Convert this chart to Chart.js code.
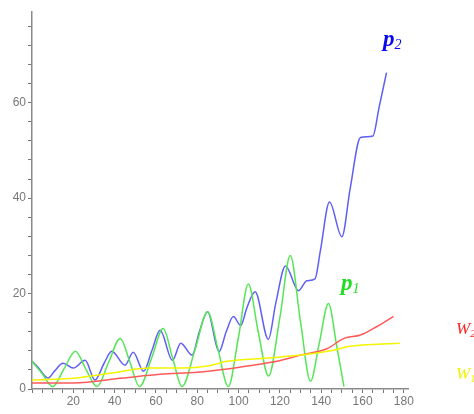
<!DOCTYPE html>
<html>
<head>
<meta charset="utf-8">
<title>p1, p2, W1, W2</title>
<script src="https://cdn.jsdelivr.net/npm/chart.js@4/dist/chart.umd.min.js"></script>
<style>
  html, body { margin: 0; padding: 0; background: #fff; }
  #wrap { position: relative; width: 474px; height: 414px; }
</style>
</head>
<body>
<div id="wrap"><canvas id="plot" width="474" height="414"></canvas></div>
<script>
// p2 (blue)
const p2X = [0, 3, 7.8, 11, 15, 20, 25.7, 30.5, 35, 38.6, 45, 49, 54, 58, 62, 68, 72, 77.5, 81, 85, 90.5, 94, 97.5, 101, 104, 108, 114.4, 118, 122.7, 129, 133, 137, 139.6, 144, 150, 154, 159, 165, 168, 171.6];
const p2Y = [5.8, 4.5, 2.3, 3.8, 5.4, 4.4, 6.0, 1.9, 5.5, 7.9, 5.0, 7.7, 3.7, 8.0, 12.3, 6.0, 9.6, 7.1, 12.0, 16.2, 7.8, 12.0, 15.2, 13.3, 17.0, 20.4, 10.4, 18.0, 25.8, 20.6, 22.7, 23.1, 29.0, 39.2, 31.9, 42.0, 52.7, 53.0, 59.0, 66.3];

// p1 (green)
const p1X = [0, 5, 10, 15.5, 21, 26, 31.5, 37, 42.7, 47.5, 52, 58, 63.5, 68, 72.6, 79, 85, 90, 95, 100, 104.7, 109.5, 114.5, 120, 125, 130, 134.8, 139, 143.5, 147.5, 151];
const p1Y = [5.8, 3.2, 0.5, 4.2, 7.9, 4.2, 0.5, 5.5, 10.6, 5.5, 0.5, 6.6, 12.7, 6.6, 0.5, 8.4, 16.2, 8.4, 0.5, 11.0, 22.0, 12.0, 2.7, 15.0, 28.0, 14.0, 1.6, 9.5, 17.9, 9.0, 0.5];

// W2 (red)
const w2X = [0, 20, 44, 62, 80, 94.5, 107, 118.5, 130, 143, 151, 159, 167, 175];
const w2Y = [1.25, 1.25, 2.3, 3.1, 3.5, 4.2, 5.0, 5.8, 7.1, 8.5, 10.6, 11.3, 13.1, 15.2];

// W1 (yellow)
const w1X = [0, 21.5, 37.8, 57, 73, 85, 94.5, 114, 130, 146, 153, 178];
const w1Y = [1.9, 2.3, 3.3, 4.4, 4.4, 4.8, 5.8, 6.5, 7.1, 8.1, 8.9, 9.6];

// x ticks every 5, labelled every 20; y ticks every 4, labelled every 20
const xStep = 5, xLabelEvery = 20;
const yStep = 4, yLabelEvery = 20;

const pts = (xs, ys) => xs.map((x, i) => ({ x: x, y: ys[i] }));

// curve names placed beside their lines
const curveLabels = [
  { main: 'p', sub: '2', color: '#0a0aee', x: 383, y: 46, size: 23, bold: true },
  { main: 'p', sub: '1', color: '#22dd22', x: 341, y: 290, size: 23, bold: true },
  { main: 'W', sub: '2', color: '#ff2222', x: 456, y: 334, size: 17, bold: false },
  { main: 'W', sub: '1', color: '#f2f200', x: 456, y: 379, size: 17, bold: false },
];

const labelPlugin = {
  id: 'curveLabels',
  afterDraw(chart) {
    const ctx = chart.ctx;
    ctx.save();
    ctx.textBaseline = 'alphabetic';
    curveLabels.forEach(l => {
      const w = l.bold ? 'bold ' : '';
      ctx.fillStyle = l.color;
      ctx.font = `italic ${w}${l.size}px "Liberation Serif", "DejaVu Serif", serif`;
      ctx.fillText(l.main, l.x, l.y);
      const mw = ctx.measureText(l.main).width;
      ctx.font = `italic ${Math.round(l.size * 0.62)}px "Liberation Serif", "DejaVu Serif", serif`;
      ctx.fillText(l.sub, l.x + mw, l.y + 3);
    });
    ctx.restore();
  }
};

const line = (data, color) => ({
  data: data,
  borderColor: color,
  borderWidth: 1.5,
  pointRadius: 0,
  fill: false,
  cubicInterpolationMode: 'monotone',
});

new Chart(document.getElementById('plot'), {
  type: 'line',
  data: {
    datasets: [
      line(pts(w1X, w1Y), '#f4f400'),
      line(pts(w2X, w2Y), '#ff5a5a'),
      line(pts(p1X, p1Y), '#55e655'),
      line(pts(p2X, p2Y), '#5f5ff5'),
    ]
  },
  options: {
    responsive: false,
    animation: false,
    layout: { padding: { top: 12, right: 66, left: 0, bottom: 0 } },
    plugins: { legend: { display: false }, tooltip: { enabled: false } },
    scales: {
      x: {
        type: 'linear', min: 0, max: 182,
        border: { color: '#8a8a8a', width: 1.5 },
        grid: { drawOnChartArea: false, drawTicks: true, tickLength: 4, color: '#777' },
        ticks: {
          stepSize: xStep, autoSkip: false, includeBounds: false, maxRotation: 0,
          color: '#777', padding: 1,
          font: { family: 'Liberation Sans', size: 12 },
          callback: v => (v > 0 && v % xLabelEvery === 0) ? String(v) : ''
        },
        afterFit: s => { s.height = 25; }
      },
      y: {
        type: 'linear', min: 0, max: 79,
        border: { color: '#8a8a8a', width: 1.5 },
        grid: { drawOnChartArea: false, drawTicks: true, tickLength: 4, color: '#777' },
        ticks: {
          stepSize: yStep, autoSkip: false, includeBounds: false,
          color: '#777', padding: 2,
          font: { family: 'Liberation Sans', size: 12 },
          callback: v => (v % yLabelEvery === 0) ? String(v) : ''
        },
        afterFit: s => { s.width = 32; }
      }
    }
  },
  plugins: [labelPlugin]
});
</script>
</body>
</html>
